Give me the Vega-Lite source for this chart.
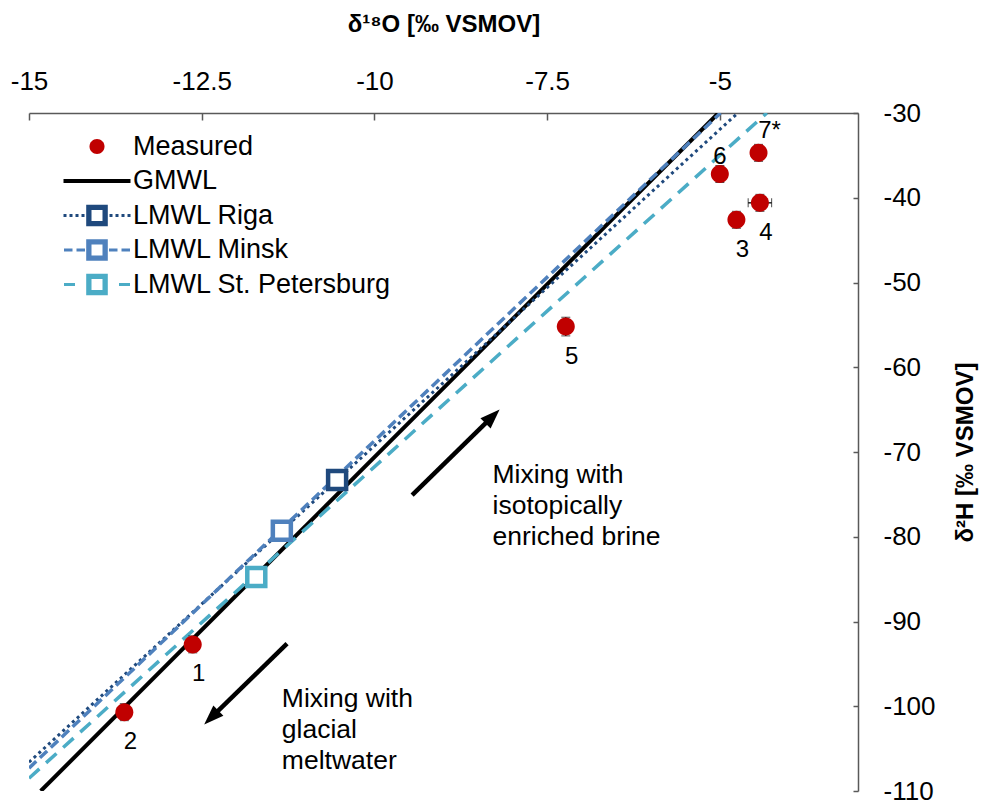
{
  "$schema": "https://vega.github.io/schema/vega-lite/v6.json",
  "width": 829,
  "height": 678,
  "autosize": {"type": "none"},
  "padding": {"left": 29, "top": 113, "right": 137, "bottom": 14},
  "background": "white",
  "config": {
    "font": "Liberation Sans",
    "view": {"stroke": null},
    "locale": {"number": {"decimal": ".", "thousands": ",", "grouping": [3], "currency": ["$", ""], "minus": "-"}},
    "axis": {
      "grid": false,
      "domainColor": "#595959",
      "domainWidth": 1.5,
      "tickColor": "#595959",
      "tickWidth": 1.5,
      "labelFont": "Liberation Sans",
      "labelFontSize": 26,
      "labelColor": "black",
      "titleFont": "Liberation Sans",
      "titleFontSize": 24,
      "titleFontWeight": "bold",
      "titleColor": "black",
      "labelFlush": false,
      "labelOverlap": false
    },
    "legend": {
      "orient": "none",
      "legendX": 54.5,
      "legendY": 20,
      "padding": 0,
      "symbolSize": 400,
      "symbolStrokeWidth": 0,
      "symbolOpacity": 1,
      "labelFont": "Liberation Sans",
      "labelFontSize": 27,
      "labelColor": "black",
      "labelOffset": 22.5,
      "rowPadding": 6.5,
      "labelLimit": 600
    }
  },
  "datasets": {
    "measured": [
      {"series": "Measured", "id": "1", "d18O": -12.63, "d2H": -92.7, "yerr": 1.0, "xerr": 0},
      {"series": "Measured", "id": "2", "d18O": -13.62, "d2H": -100.7, "yerr": 1.0, "xerr": 0},
      {"series": "Measured", "id": "3", "d18O": -4.76, "d2H": -42.6, "yerr": 1.0, "xerr": 0},
      {"series": "Measured", "id": "4", "d18O": -4.42, "d2H": -40.6, "yerr": 1.0, "xerr": 0.17},
      {"series": "Measured", "id": "5", "d18O": -7.23, "d2H": -55.2, "yerr": 1.1, "xerr": 0},
      {"series": "Measured", "id": "6", "d18O": -5.0, "d2H": -37.2, "yerr": 1.0, "xerr": 0},
      {"series": "Measured", "id": "7*", "d18O": -4.44, "d2H": -34.7, "yerr": 1.0, "xerr": 0}
    ],
    "lines": [
      {"series": "GMWL", "d18O": -14.83, "d2H": -110},
      {"series": "GMWL", "d18O": -5.02, "d2H": -30},
      {"series": "LMWL St. Petersburg", "d18O": -15, "d2H": -108.5},
      {"series": "LMWL St. Petersburg", "d18O": -4.32, "d2H": -30},
      {"series": "LMWL Riga", "d18O": -15, "d2H": -106.6},
      {"series": "LMWL Riga", "d18O": -4.74, "d2H": -30},
      {"series": "LMWL Minsk", "d18O": -15, "d2H": -107.3},
      {"series": "LMWL Minsk", "d18O": -4.99, "d2H": -30}
    ],
    "markers": [
      {"series": "LMWL Riga", "d18O": -10.54, "d2H": -73.3},
      {"series": "LMWL Minsk", "d18O": -11.34, "d2H": -79.3},
      {"series": "LMWL St. Petersburg", "d18O": -11.71, "d2H": -84.75}
    ],
    "shafts": [
      {"dir": "up", "d18O": -9.454, "d2H": -75.1, "d18O_end": -8.29, "d2H_end": -65.8},
      {"dir": "down", "d18O": -11.265, "d2H": -92.61, "d18O_end": -12.36, "d2H_end": -101.3}
    ],
    "heads": [
      {"dir": "up", "d18O": -8.188, "d2H": -64.98},
      {"dir": "down", "d18O": -12.464, "d2H": -102.14}
    ],
    "notes": [
      {"note": "Mixing with\nisotopically\nenriched brine", "d18O": -8.29, "d2H": -72.7},
      {"note": "Mixing with\nglacial\nmeltwater", "d18O": -11.34, "d2H": -99.2}
    ]
  },
  "encoding": {
    "x": {
      "field": "d18O",
      "type": "quantitative",
      "scale": {"domain": [-15, -3], "nice": false, "zero": false},
      "axis": {
        "orient": "top",
        "title": "δ¹⁸O [‰ VSMOV]",
        "values": [-15, -12.5, -10, -7.5, -5],
        "format": ".1~f",
        "tickSize": -7,
        "labelPadding": 26,
        "titlePadding": 32
      }
    },
    "y": {
      "field": "d2H",
      "type": "quantitative",
      "scale": {"domain": [-110, -30], "nice": false, "zero": false},
      "axis": {
        "orient": "right",
        "title": "δ²H [‰ VSMOV]",
        "values": [-110, -100, -90, -80, -70, -60, -50, -40, -30],
        "format": ".1~f",
        "tickSize": -5,
        "labelPadding": 30,
        "titleAngle": 270,
        "titlePadding": 42
      }
    }
  },
  "layer": [
    {
      "data": {"name": "lines"},
      "transform": [{"filter": "datum.series === 'GMWL'"}],
      "mark": {"type": "line", "clip": true, "color": "#000000", "strokeWidth": 4}
    },
    {
      "data": {"name": "lines"},
      "transform": [{"filter": "datum.series === 'LMWL St. Petersburg'"}],
      "mark": {"type": "line", "clip": true, "color": "#4BACC6", "strokeWidth": 3.5, "strokeDash": [14, 9]}
    },
    {
      "data": {"name": "lines"},
      "transform": [{"filter": "datum.series === 'LMWL Riga'"}],
      "mark": {"type": "line", "clip": true, "color": "#1F497D", "strokeWidth": 3, "strokeDash": [3, 3.5]}
    },
    {
      "data": {"name": "lines"},
      "transform": [{"filter": "datum.series === 'LMWL Minsk'"}],
      "mark": {"type": "line", "clip": true, "color": "#4F81BD", "strokeWidth": 3.5, "strokeDash": [10, 5]}
    },
    {
      "data": {"name": "markers"},
      "mark": {"type": "point", "shape": "square", "filled": true, "fill": "white", "size": 324, "strokeWidth": 4.5, "opacity": 1},
      "encoding": {
        "stroke": {
          "field": "series",
          "type": "nominal",
          "scale": {"domain": ["LMWL Riga", "LMWL Minsk", "LMWL St. Petersburg"], "range": ["#1F497D", "#4F81BD", "#4BACC6"]},
          "legend": null
        }
      }
    },
    {
      "data": {"name": "shafts"},
      "mark": {"type": "rule", "color": "black", "strokeWidth": 4.5},
      "encoding": {
        "x2": {"field": "d18O_end"},
        "y2": {"field": "d2H_end"}
      }
    },
    {
      "data": {"name": "heads"},
      "transform": [{"filter": "datum.dir === 'up'"}],
      "mark": {"type": "point", "shape": "M0,0L0.8,2.2L-0.8,2.2Z", "filled": true, "color": "black", "size": 324, "angle": 45.3, "opacity": 1, "strokeWidth": 0}
    },
    {
      "data": {"name": "heads"},
      "transform": [{"filter": "datum.dir === 'down'"}],
      "mark": {"type": "point", "shape": "M0,0L0.8,2.2L-0.8,2.2Z", "filled": true, "color": "black", "size": 324, "angle": 225.7, "opacity": 1, "strokeWidth": 0}
    },
    {
      "data": {"name": "notes"},
      "mark": {"type": "text", "align": "left", "baseline": "middle", "fontSize": 26.5, "lineHeight": 31, "lineBreak": "\n", "color": "black"},
      "encoding": {"text": {"field": "note"}}
    },
    {
      "data": {"name": "measured"},
      "mark": {"type": "errorbar", "ticks": {"size": 9, "color": "black", "strokeWidth": 1.3}, "rule": {"color": "black", "strokeWidth": 1.3}},
      "encoding": {
        "x": {"field": "d18O", "type": "quantitative"},
        "y": {"field": "d2H", "type": "quantitative"},
        "yError": {"field": "yerr"}
      }
    },
    {
      "data": {"name": "measured"},
      "transform": [{"filter": "datum.xerr > 0"}],
      "mark": {"type": "errorbar", "ticks": {"size": 9, "color": "black", "strokeWidth": 1.3}, "rule": {"color": "black", "strokeWidth": 1.3}},
      "encoding": {
        "x": {"field": "d18O", "type": "quantitative"},
        "y": {"field": "d2H", "type": "quantitative"},
        "xError": {"field": "xerr"}
      }
    },
    {
      "data": {"name": "measured"},
      "mark": {"type": "point", "filled": true, "size": 576, "opacity": 1, "strokeWidth": 0},
      "encoding": {
        "fill": {
          "field": "series",
          "type": "nominal",
          "title": null,
          "scale": {
            "domain": ["Measured", "GMWL", "LMWL Riga", "LMWL Minsk", "LMWL St. Petersburg"],
            "range": ["#C00000", "#000000", "#1F497D", "#4F81BD", "#4BACC6"]
          }
        },
        "shape": {
          "field": "series",
          "type": "nominal",
          "title": null,
          "scale": {
            "domain": ["Measured", "GMWL", "LMWL Riga", "LMWL Minsk", "LMWL St. Petersburg"],
            "range": [
              "M-0.75,0A0.75,0.75,0,1,0,0.75,0A0.75,0.75,0,1,0,-0.75,0ZM-3.35,0M3.35,0",
              "M-3.35,-0.2H3.35V0.2H-3.35Z",
              "M-1.08,-1.08H1.08V1.08H-1.08ZM-0.55,-0.55V0.55H0.55V-0.55ZM-3.35,-0.15h0.3v0.3h-0.3ZM-2.75,-0.15h0.3v0.3h-0.3ZM-2.15,-0.15h0.3v0.3h-0.3ZM-1.55,-0.15h0.3v0.3h-0.3ZM1.25,-0.15h0.3v0.3h-0.3ZM1.85,-0.15h0.3v0.3h-0.3ZM2.45,-0.15h0.3v0.3h-0.3ZM3.05,-0.15h0.3v0.3h-0.3Z",
              "M-1.08,-1.08H1.08V1.08H-1.08ZM-0.55,-0.55V0.55H0.55V-0.55ZM-3.3,-0.16H-2.45V0.16H-3.3ZM-2.05,-0.16H-1.2V0.16H-2.05ZM1.2,-0.16H2.05V0.16H1.2ZM2.45,-0.16H3.3V0.16H2.45Z",
              "M-1.08,-1.08H1.08V1.08H-1.08ZM-0.55,-0.55V0.55H0.55V-0.55ZM-3.3,-0.16H-2.2V0.16H-3.3ZM2.2,-0.16H3.3V0.16H2.2Z"
            ]
          }
        }
      }
    },
    {
      "data": {"name": "measured"},
      "transform": [{"filter": "datum.id !== '6' && datum.id !== '7*'"}],
      "mark": {"type": "text", "fontSize": 24, "color": "black", "align": "center", "baseline": "middle", "dx": 6, "dy": 30},
      "encoding": {"text": {"field": "id"}}
    },
    {
      "data": {"name": "measured"},
      "transform": [{"filter": "datum.id === '6'"}],
      "mark": {"type": "text", "fontSize": 24, "color": "black", "align": "center", "baseline": "middle", "dx": 0, "dy": -17},
      "encoding": {"text": {"field": "id"}}
    },
    {
      "data": {"name": "measured"},
      "transform": [{"filter": "datum.id === '7*'"}],
      "mark": {"type": "text", "fontSize": 24, "color": "black", "align": "center", "baseline": "middle", "dx": 11, "dy": -22},
      "encoding": {"text": {"field": "id"}}
    }
  ]
}
